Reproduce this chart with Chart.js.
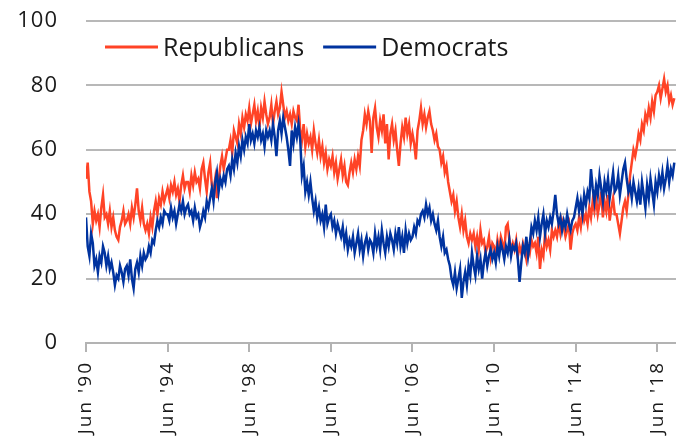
<!DOCTYPE html>
<html>
<head>
<meta charset="utf-8">
<script src="https://cdn.jsdelivr.net/npm/chart.js@4.4.1/dist/chart.umd.min.js"></script>
<style>
  html, body { margin: 0; padding: 0; background: #fff; }
</style>
</head>
<body>
<canvas id="partyChart" width="676" height="443"></canvas>
<script>
// x axis is counted in months from Jun 1990
const tickMonths = [0, 48, 96, 144, 192, 240, 288, 336];
const tickLabels = ["Jun '90", "Jun '94", "Jun '98", "Jun '02", "Jun '06", "Jun '10", "Jun '14", "Jun '18"];

const seriesNames = ["Republicans", "Democrats"];
const seriesColors = ["#ff4326", "#00339f"];

// monthly readings, Jun 1990 onwards (one row = Jun..May)
const republicans = [
  51, 56, 47, 44, 37, 41, 38, 40, 36, 42, 46, 39,
  40, 37, 41, 36, 39, 35, 33, 32, 36, 38, 41, 37,
  38, 40, 37, 42, 39, 43, 48, 41, 38, 42, 37, 35,
  37, 34, 39, 36, 41, 44, 40, 45, 43, 47, 44, 46,
  48, 45, 49, 47, 50, 46, 48, 44, 49, 52, 48, 50,
  50, 47, 52, 49, 53, 50, 51, 48, 54, 56, 51, 47,
  53, 56, 49, 47, 51, 45, 50, 55, 58, 54, 57, 60,
  60, 63, 59, 66, 64, 62, 68, 65, 70, 67, 71, 69,
  73, 68, 71, 74, 69, 72, 67, 73, 70, 75, 71, 68,
  70, 74, 68, 72, 75, 71, 73, 78, 74, 70, 72, 69,
  71, 68, 72, 70, 69, 74, 66, 63, 68, 61, 65, 62,
  64, 60, 66, 62, 59, 63, 58, 61, 56, 59, 54, 57,
  55, 58, 53, 56, 51, 54, 57, 52, 55, 50, 49, 53,
  56, 53, 57, 54, 58, 55, 63, 66, 71, 68, 72, 69,
  59, 70, 73, 67, 64, 69, 66, 71, 62, 68, 57, 65,
  68, 63, 66, 60, 55, 62, 67, 64, 70, 65, 68, 62,
  65, 62, 57, 66, 69, 73, 68, 71, 67, 70, 72, 68,
  66, 63, 65, 61, 60, 56, 58, 53, 55, 50, 47, 44,
  46, 41, 44, 39, 36, 40, 35, 38, 33, 31, 34, 32,
  34, 30, 33, 29, 35, 31, 32, 28, 30, 33, 27, 31,
  30, 27, 32, 29, 33, 31, 28, 36, 37, 32, 29, 31,
  29, 32, 27, 30, 28, 31, 29, 26, 30, 28, 32, 30,
  31, 28, 33, 23, 29, 27, 34, 30, 32, 29, 35, 33,
  35, 33, 37, 34, 38, 36, 33, 35, 37, 29, 34, 36,
  37, 35, 39, 36, 41, 38, 40, 37, 42, 39, 44, 41,
  45, 40, 43, 47, 39, 44, 41, 46, 38, 42, 45, 40,
  40, 37, 34, 38, 42, 44, 41, 46, 52, 56, 60, 58,
  61, 65, 63, 68, 66, 71, 69, 73, 70, 75, 72, 77,
  78, 80, 76, 79, 82, 78, 80, 75, 77, 74, 76
];

const democrats = [
  39, 30, 27, 34, 31, 24, 26, 22, 27, 25, 30, 28,
  24, 27, 23, 25, 22, 18, 21, 20, 24, 22, 19, 23,
  24, 21, 26, 20, 17, 23, 25, 22, 27, 24, 28, 26,
  27, 30, 28, 32, 31, 35, 38, 36, 39, 37, 41, 40,
  40, 38, 42, 39, 41, 37, 40, 43, 41, 44, 40, 42,
  43, 40, 41, 38, 42, 39, 40, 36, 38, 41, 39, 44,
  42, 45, 48, 44, 50, 53, 47, 51, 49, 52, 50, 54,
  55, 52, 57, 54, 59, 56, 61, 58, 63, 60, 64, 62,
  68, 63, 65, 62, 66, 64, 67, 63, 65, 61, 66, 64,
  66, 63, 68, 64, 58, 66, 69, 65, 70, 67, 64, 60,
  55, 66, 62, 67, 64, 68, 63, 52, 55, 47, 50, 46,
  50, 45, 41, 44, 39, 42, 38, 40, 36, 43, 37, 39,
  40, 36, 38, 34, 37, 35, 33, 36, 31, 34, 29, 32,
  30, 33, 28, 31, 34, 29, 32, 27, 31, 33, 29, 32,
  31, 28, 34, 30, 33, 29, 35, 31, 28, 33, 30, 34,
  32, 29, 34, 31, 36, 30, 33, 28, 35, 31, 34, 32,
  33, 36, 34, 38, 37, 40, 41, 39, 43, 40, 42, 38,
  40, 37, 35, 38, 33, 30, 33, 28, 29, 26, 24, 20,
  18, 22, 17, 20, 23, 14, 19, 22, 18, 24, 21, 28,
  24, 21, 27, 23, 26, 20, 25, 28, 24, 27, 29, 26,
  28, 25, 30, 27, 31, 29, 26, 30, 28, 32, 27, 30,
  29, 31, 26, 19, 25, 30, 28, 33, 27, 31, 36, 34,
  38, 35, 39, 33, 37, 40, 34, 38, 36, 39, 37, 41,
  46, 40, 37, 39, 35, 38, 36, 40, 37, 35, 38, 39,
  42, 45, 41, 44, 40, 46, 43, 47, 45, 54, 48, 44,
  49, 46, 52, 48, 44, 50, 47, 51, 45, 49, 53, 47,
  48, 52, 46, 50, 54, 56, 51, 47, 49, 45, 50, 47,
  44, 48, 43, 50, 46, 42, 49, 45, 51, 47, 43, 50,
  47, 52, 49, 53, 48, 51, 55, 50, 54, 52, 56
];

Chart.defaults.font.family = "'Open Sans', 'DejaVu Sans', sans-serif";
Chart.defaults.color = "#1a1a1a";

// legend sits inside the plot, top left
const legendInside = {
  id: "legendInside",
  afterDraw(chart) {
    const ctx = chart.ctx;
    ctx.save();
    ctx.letterSpacing = "0px";
    ctx.font = "25px 'Open Sans', sans-serif";
    ctx.textBaseline = "alphabetic";
    let x = 105;
    seriesNames.forEach((name, i) => {
      ctx.strokeStyle = seriesColors[i];
      ctx.lineWidth = 3;
      ctx.beginPath();
      ctx.moveTo(x, 47);
      ctx.lineTo(x + 53, 47);
      ctx.stroke();
      x += 58;
      ctx.fillStyle = "#1a1a1a";
      ctx.fillText(name, x, 56);
      x += ctx.measureText(name).width + 19;
    });
    ctx.restore();
  }
};

// slightly wider text, like the original's font
const textSpacing = {
  id: "textSpacing",
  beforeDraw(chart) { chart.ctx.letterSpacing = "1px"; },
  afterDatasetsDraw(chart) { chart.ctx.letterSpacing = "2px"; }
};

const ctx = document.getElementById("partyChart").getContext("2d");
new Chart(ctx, {
  type: "line",
  data: {
    datasets: [
      {
        label: seriesNames[0],
        data: republicans.map((v, i) => ({ x: i, y: v })),
        borderColor: seriesColors[0],
        borderWidth: 2.5,
        pointRadius: 0,
        tension: 0,
        order: 1
      },
      {
        label: seriesNames[1],
        data: democrats.map((v, i) => ({ x: i, y: v })),
        borderColor: seriesColors[1],
        borderWidth: 2.5,
        pointRadius: 0,
        tension: 0,
        order: 0
      }
    ]
  },
  options: {
    responsive: false,
    animation: false,
    layout: { padding: { top: 21, right: 0, bottom: 0, left: 0 } },
    plugins: {
      legend: { display: false },
      tooltip: { enabled: false }
    },
    scales: {
      x: {
        type: "linear",
        min: 0,
        max: 347,
        afterBuildTicks: axis => { axis.ticks = tickMonths.map(v => ({ value: v })); },
        afterFit: scale => {
          scale.height = 100;
          scale.paddingLeft = 0;
          scale.paddingRight = 0;
        },
        grid: { drawOnChartArea: false, drawTicks: true, tickLength: 9, color: "#b3b3b3", lineWidth: 2 },
        border: { display: true, color: "#b3b3b3", width: 2 },
        ticks: {
          autoSkip: false,
          minRotation: 90,
          maxRotation: 90,
          padding: 9,
          z: 1,
          font: { size: 19 },
          callback: (value, index) => tickLabels[index]
        }
      },
      y: {
        min: 0,
        max: 100,
        afterFit: scale => {
          scale.width = 86;
          scale.paddingTop = 0;
          scale.paddingBottom = 0;
        },
        grid: { color: "#b8b8b8", lineWidth: 2, drawTicks: false },
        border: { display: false },
        ticks: { stepSize: 20, padding: 28, font: { size: 22 } }
      }
    }
  },
  plugins: [legendInside, textSpacing]
});
</script>
</body>
</html>
